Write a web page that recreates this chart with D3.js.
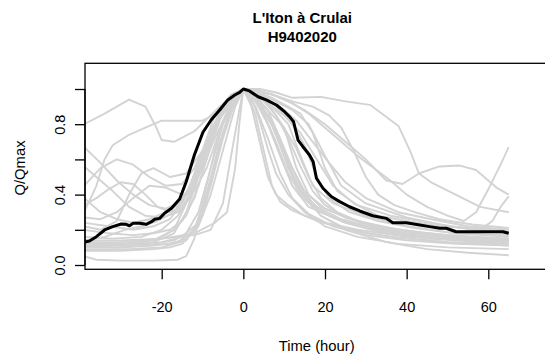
<!DOCTYPE html>
<html>
<head>
<meta charset="utf-8">
<script src="https://cdn.jsdelivr.net/npm/d3@7"></script>
<style>
  html, body { margin: 0; padding: 0; background: #ffffff; }
  svg { display: block; font-family: "Liberation Sans", Arial, Helvetica, sans-serif; }
</style>
</head>
<body>
<svg id="chart" width="545" height="361"></svg>
<script>
// ---- text ----
const titleLine1 = "L'Iton à Crulai";
const titleLine2 = "H9402020";
const xLabel = "Time (hour)";
const yLabel = "Q/Qmax";

// ---- ticks ----
const xTicks = [-20, 0, 20, 40, 60];
const yTicks = [0, 0.2, 0.4, 0.6, 0.8, 1.0];
const yTickLabels = ["0.0", "", "0.4", "", "0.8", ""];

// ---- mean (black) hydrograph: [time, Q/Qmax] ----
const meanCurve = [
  [-39, 0.13], [-37.7, 0.136], [-36, 0.161], [-34, 0.199], [-32, 0.218], [-29.9, 0.233],
  [-28.7, 0.231], [-27.9, 0.223], [-27, 0.237], [-25.4, 0.237], [-23.8, 0.231], [-22.5, 0.246],
  [-21.7, 0.26], [-20.5, 0.265], [-19.3, 0.294], [-17.6, 0.322], [-15.6, 0.375], [-14, 0.473],
  [-12, 0.625], [-9.9, 0.754], [-7.9, 0.824], [-5.8, 0.881], [-3.8, 0.938], [-2.1, 0.966],
  [-0.9, 0.981], [0, 1.0], [1.5, 0.989], [3.6, 0.956], [5.6, 0.938], [8.1, 0.909],
  [10.1, 0.871], [11.3, 0.843], [12.3, 0.814], [13.4, 0.71], [14.6, 0.672], [16.2, 0.625],
  [17.1, 0.587], [17.9, 0.493], [19.5, 0.436], [21.6, 0.388], [23.6, 0.36], [26, 0.331],
  [28.5, 0.307], [31.7, 0.28], [35, 0.265], [36.6, 0.24], [39.9, 0.24], [43.2, 0.227],
  [45.6, 0.218], [48.1, 0.209], [49.7, 0.209], [52.1, 0.189], [57, 0.189], [63.6, 0.189],
  [65, 0.18]
];

// ---- individual events (grey): [time, Q/Qmax] ----
const g01 = [[-39,0.80],[-34,0.86],[-28,0.94],[-24,0.90],[-21.5,0.79],[-20,0.71],[-17,0.70],[-12,0.76],[-8,0.85],[-4,0.94],[0,1],[3,0.93],[6,0.80],[9,0.62],[12,0.45],[16,0.33],[22,0.27],[30,0.22],[40,0.18],[50,0.16],[65,0.15]];
const g02 = [[-39,0.67],[-35,0.58],[-31,0.48],[-27,0.40],[-23,0.34],[-19,0.32],[-15,0.36],[-11,0.50],[-7,0.72],[-3,0.92],[0,1],[3,0.97],[7,0.90],[11,0.80],[14,0.62],[17,0.45],[22,0.35],[30,0.28],[40,0.22],[52,0.18],[65,0.17]];
const g03 = [[-39,0.30],[-36,0.45],[-34,0.60],[-32,0.68],[-28,0.74],[-24,0.78],[-20,0.82],[-10,0.82],[-5,0.88],[-2,0.95],[0,1],[4,0.97],[8,0.93],[12,0.88],[16,0.80],[20,0.62],[24,0.45],[30,0.35],[40,0.27],[50,0.22],[65,0.19]];
const g04 = [[-39,0.45],[-35,0.55],[-31,0.60],[-27,0.57],[-23,0.50],[-19,0.45],[-15,0.46],[-12,0.55],[-8,0.75],[-4,0.92],[0,1],[3,0.98],[6,0.92],[10,0.78],[13,0.55],[16,0.40],[20,0.32],[28,0.25],[38,0.20],[50,0.17],[65,0.15]];
const g05 = [[-39,0.22],[-35,0.20],[-31,0.25],[-28,0.40],[-25,0.52],[-22,0.55],[-18,0.50],[-14,0.52],[-10,0.65],[-6,0.82],[-2,0.96],[0,1],[2,0.98],[5,0.95],[9,0.90],[13,0.82],[17,0.70],[21,0.58],[25,0.47],[30,0.38],[38,0.30],[46,0.26],[55,0.22],[65,0.20]];
const g06 = [[-39,0.56],[-36,0.50],[-32,0.42],[-28,0.33],[-24,0.28],[-20,0.27],[-16,0.30],[-13,0.38],[-10,0.58],[-7,0.80],[-4,0.93],[0,1],[3,0.96],[6,0.88],[9,0.72],[12,0.55],[15,0.42],[19,0.33],[25,0.27],[33,0.22],[45,0.18],[65,0.14]];
const g07 = [[-39,0.38],[-35,0.30],[-31,0.26],[-27,0.24],[-23,0.26],[-19,0.30],[-16,0.34],[-13,0.45],[-10,0.65],[-7,0.85],[-3,0.97],[0,1],[4,0.92],[8,0.75],[11,0.55],[14,0.42],[18,0.33],[24,0.26],[32,0.21],[42,0.17],[52,0.15],[65,0.13]];
const g08 = [[-39,0.12],[-30,0.11],[-22,0.12],[-17,0.14],[-14,0.18],[-11,0.30],[-8,0.55],[-5,0.80],[-2,0.95],[0,1],[3,0.95],[6,0.85],[9,0.68],[12,0.50],[15,0.38],[19,0.30],[25,0.24],[33,0.19],[45,0.15],[65,0.12]];
const g09 = [[-39,0.10],[-30,0.10],[-22,0.11],[-16,0.13],[-12,0.20],[-9,0.40],[-6,0.68],[-3,0.90],[0,1],[3,0.90],[6,0.72],[9,0.52],[12,0.38],[16,0.29],[22,0.22],[30,0.17],[40,0.14],[52,0.12],[65,0.11]];
const g10 = [[-39,0.09],[-28,0.09],[-20,0.10],[-14,0.14],[-10,0.28],[-7,0.55],[-4,0.82],[-1,0.97],[0,1],[2,0.96],[5,0.86],[8,0.70],[11,0.52],[14,0.40],[18,0.31],[24,0.25],[32,0.20],[44,0.16],[65,0.13]];
const g11 = [[-39,0.05],[-36,0.03],[-30,0.025],[-22,0.025],[-16,0.03],[-14,0.05],[-12,0.15],[-9,0.45],[-6,0.75],[-3,0.93],[0,1],[3,0.95],[7,0.82],[11,0.60],[15,0.40],[19,0.28],[25,0.20],[35,0.13],[45,0.09],[55,0.07],[65,0.055]];
const g12 = [[-39,0.13],[-30,0.13],[-20,0.15],[-12,0.18],[-7,0.24],[-4,0.30],[-2,0.55],[-1,0.80],[0,1],[1,0.97],[3,0.85],[5,0.65],[7,0.45],[9,0.36],[12,0.31],[18,0.25],[26,0.20],[36,0.16],[50,0.13],[65,0.12]];
const g13 = [[-39,0.14],[-34,0.16],[-29,0.20],[-25,0.22],[-21,0.25],[-17,0.30],[-14,0.40],[-11,0.58],[-8,0.76],[-5,0.90],[-2,0.97],[0,1],[3,0.99],[7,0.95],[11,0.90],[14,0.86],[17,0.75],[20,0.55],[23,0.42],[28,0.34],[36,0.28],[46,0.24],[56,0.20],[65,0.18]];
const g14 = [[-39,0.11],[-30,0.12],[-22,0.14],[-17,0.20],[-14,0.35],[-11,0.55],[-8,0.75],[-5,0.88],[-2,0.97],[0,1],[4,1.0],[8,0.98],[12,0.95],[19,0.955],[25,0.93],[31,0.91],[38,0.79],[41,0.64],[43,0.52],[46,0.47],[52,0.40],[58,0.33],[65,0.30]];
const g15 = [[-39,0.12],[-30,0.12],[-22,0.13],[-17,0.18],[-14,0.30],[-11,0.50],[-8,0.72],[-5,0.88],[-2,0.97],[0,1],[3,0.99],[7,0.97],[11,0.93],[15,0.88],[20,0.80],[25,0.70],[30,0.60],[35,0.48],[39,0.46],[43,0.52],[48,0.56],[53,0.565],[57,0.54],[62,0.44],[65,0.40]];
const g16 = [[-39,0.24],[-33,0.22],[-27,0.20],[-22,0.22],[-18,0.26],[-15,0.35],[-12,0.50],[-9,0.70],[-6,0.86],[-3,0.96],[0,1],[4,0.99],[8,0.96],[12,0.92],[16,0.86],[20,0.78],[24,0.70],[28,0.62],[32,0.55],[36,0.48],[40,0.40],[45,0.33],[50,0.28],[54,0.25],[57,0.30],[60,0.43],[63,0.57],[65,0.67]];
const g17 = [[-39,0.20],[-33,0.18],[-27,0.17],[-22,0.18],[-18,0.20],[-15,0.25],[-12,0.38],[-9,0.60],[-6,0.82],[-3,0.95],[0,1],[3,0.97],[6,0.92],[10,0.85],[14,0.75],[18,0.60],[22,0.45],[27,0.35],[33,0.28],[40,0.25],[48,0.22],[55,0.21],[58,0.20],[61,0.25],[63,0.33],[65,0.39]];
const g18 = [[-39,0.10],[-32,0.11],[-26,0.13],[-21,0.15],[-17,0.20],[-14,0.28],[-11,0.45],[-8,0.68],[-5,0.87],[-2,0.97],[0,1],[2,0.98],[5,0.93],[8,0.85],[11,0.72],[14,0.56],[17,0.42],[20,0.34],[25,0.27],[32,0.22],[40,0.18],[50,0.16],[65,0.14]];
const g19 = [[-39,0.34],[-36,0.38],[-33,0.43],[-30,0.47],[-27,0.46],[-24,0.40],[-21,0.33],[-18,0.30],[-15,0.33],[-12,0.45],[-9,0.64],[-6,0.82],[-3,0.95],[0,1],[2,0.96],[5,0.88],[8,0.76],[11,0.60],[14,0.45],[17,0.35],[21,0.28],[27,0.23],[35,0.19],[45,0.16],[55,0.14],[65,0.13]];
const g20 = [[-39,0.16],[-32,0.15],[-25,0.16],[-20,0.20],[-16,0.28],[-13,0.40],[-10,0.60],[-7,0.80],[-4,0.93],[-1,0.99],[0,1],[3,0.99],[7,0.97],[12,0.93],[17,0.90],[21,0.85],[24,0.78],[27,0.65],[30,0.50],[33,0.40],[37,0.34],[42,0.30],[48,0.26],[56,0.23],[65,0.21]];
const g21 = [[-39,0.27],[-35,0.26],[-31,0.30],[-27,0.38],[-23,0.45],[-19,0.44],[-15,0.40],[-12,0.42],[-9,0.55],[-6,0.75],[-3,0.92],[0,1],[3,0.95],[6,0.85],[9,0.70],[12,0.52],[15,0.38],[19,0.28],[24,0.22],[30,0.18],[40,0.15],[50,0.13],[65,0.11]];
const g22 = [[-39,0.08],[-30,0.08],[-22,0.09],[-18,0.10],[-15,0.12],[-12,0.20],[-9,0.40],[-6,0.66],[-3,0.88],[0,1],[2,0.95],[4,0.82],[6,0.66],[8,0.52],[11,0.40],[15,0.30],[20,0.22],[28,0.16],[38,0.12],[50,0.10],[65,0.09]];
const g23 = [[-39,0.12],[-33,0.12],[-26,0.12],[-20,0.13],[-15,0.16],[-11,0.24],[-8,0.45],[-5,0.72],[-2,0.93],[0,1],[3,0.96],[6,0.88],[10,0.78],[13,0.66],[16,0.50],[19,0.38],[23,0.30],[29,0.24],[37,0.20],[47,0.17],[57,0.15],[65,0.14]];
const g24 = [[-39,0.14],[-30,0.14],[-20,0.15],[-12,0.17],[-8,0.20],[-5,0.35],[-3,0.62],[-1,0.88],[0,1],[2,0.90],[4,0.70],[6,0.50],[8,0.40],[11,0.34],[15,0.28],[20,0.24],[28,0.20],[40,0.16],[55,0.14],[65,0.13]];
const g25 = [[-39,0.11],[-31,0.10],[-24,0.11],[-18,0.12],[-14,0.15],[-11,0.22],[-8,0.40],[-5,0.65],[-2,0.90],[0,1],[3,0.98],[6,0.94],[9,0.88],[12,0.80],[15,0.68],[18,0.50],[21,0.38],[26,0.30],[33,0.25],[42,0.21],[52,0.18],[65,0.16]];
const grayCurves = [g01,g02,g03,g04,g05,g06,g07,g08,g09,g10,g11,g12,g13,g14,g15,g16,g17,g18,g19,g20,g21,g22,g23,g24,g25];

// ---- layout ----
const svg = d3.select("#chart");
const plot = { left: 85, right: 548, top: 63.3, bottom: 269.3 };

const x = d3.scaleLinear().domain([-20, 60]).range([161.7, 488.3]);
const y = d3.scaleLinear().domain([0, 1]).range([265, 89]);

svg.append("defs").append("clipPath").attr("id", "clip")
  .append("rect")
  .attr("x", plot.left).attr("y", plot.top)
  .attr("width", plot.right - plot.left).attr("height", plot.bottom - plot.top);

const line = d3.line().x(d => x(d[0])).y(d => y(d[1]));

const lines = svg.append("g").attr("clip-path", "url(#clip)");
lines.selectAll("path.grey")
  .data(grayCurves)
  .join("path")
  .attr("class", "grey")
  .attr("d", line)
  .attr("fill", "none")
  .attr("stroke", "#d3d3d3")
  .attr("stroke-width", 1.9)
  .attr("stroke-linejoin", "round");

lines.append("path")
  .datum(meanCurve)
  .attr("d", line)
  .attr("fill", "none")
  .attr("stroke", "#000000")
  .attr("stroke-width", 3)
  .attr("stroke-linejoin", "round");

// box
svg.append("rect")
  .attr("x", plot.left).attr("y", plot.top)
  .attr("width", plot.right - plot.left).attr("height", plot.bottom - plot.top)
  .attr("fill", "none").attr("stroke", "#000").attr("stroke-width", 1.3);

// x axis
const xAxis = svg.append("g")
  .attr("transform", `translate(0,${plot.bottom})`)
  .call(d3.axisBottom(x).tickValues(xTicks).tickSize(10).tickFormat(d3.format("d")));
xAxis.select(".domain").remove();
xAxis.selectAll(".tick line").attr("stroke", "#000").attr("stroke-width", 1.3);
xAxis.selectAll(".tick text")
  .attr("y", 42.4).attr("dy", 0)
  .attr("font-size", 14.5).attr("fill", "#000")
  .attr("font-family", "Liberation Sans, Arial, sans-serif")
  .text(d => d < 0 ? "-" + Math.abs(d) : String(d));

// y axis
const yAxis = svg.append("g")
  .attr("transform", `translate(${plot.left},0)`)
  .call(d3.axisLeft(y).tickValues(yTicks).tickSize(10).tickFormat((d, i) => yTickLabels[i]));
yAxis.select(".domain").remove();
yAxis.append("line")
  .attr("x1", 0).attr("x2", 0)
  .attr("y1", y(yTicks[0])).attr("y2", y(yTicks[yTicks.length - 1]))
  .attr("stroke", "#000").attr("stroke-width", 1.3);
yAxis.selectAll(".tick line").attr("stroke", "#000").attr("stroke-width", 1.3);
yAxis.selectAll(".tick text")
  .attr("x", null).attr("dy", null)
  .attr("transform", "translate(-20,0) rotate(-90)")
  .attr("text-anchor", "middle")
  .attr("font-size", 14.5).attr("fill", "#000")
  .attr("font-family", "Liberation Sans, Arial, sans-serif");

// axis titles
svg.append("text")
  .attr("x", 316.7).attr("y", 350.7)
  .attr("text-anchor", "middle")
  .attr("font-size", 14.8)
  .text(xLabel);

svg.append("text")
  .attr("transform", "translate(24.5,168) rotate(-90)")
  .attr("text-anchor", "middle")
  .attr("font-size", 14.8)
  .text(yLabel);

// main title
svg.append("text")
  .attr("x", 302.3).attr("y", 22.7)
  .attr("text-anchor", "middle")
  .attr("font-size", 15)
  .attr("font-weight", "bold")
  .text(titleLine1);
svg.append("text")
  .attr("x", 302.3).attr("y", 42.3)
  .attr("text-anchor", "middle")
  .attr("font-size", 15)
  .attr("font-weight", "bold")
  .text(titleLine2);
</script>
</body>
</html>
